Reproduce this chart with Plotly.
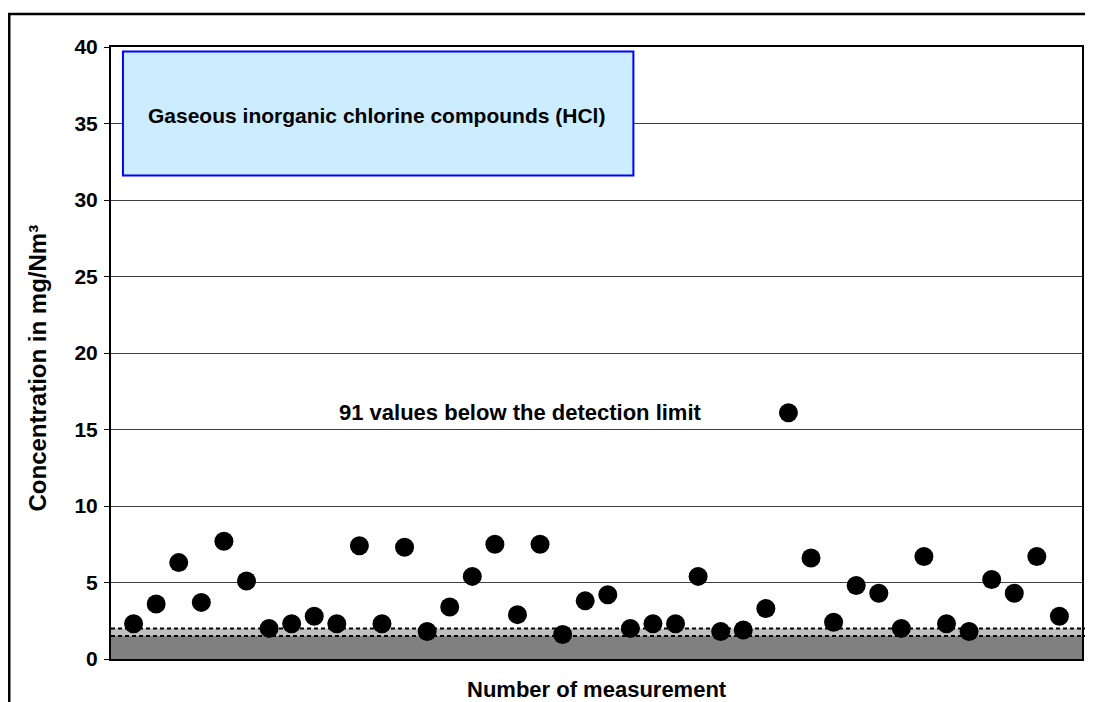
import plotly.graph_objects as go

# Measurements (index) and HCl concentrations in mg/Nm³
measurement = list(range(1, 43))
concentration = [2.3, 3.6, 6.3, 3.7, 7.7, 5.1, 2.0, 2.3, 2.8, 2.3,
                 7.4, 2.3, 7.3, 1.8, 3.4, 5.4, 7.5, 2.9, 7.5, 1.6,
                 3.8, 4.2, 2.0, 2.3, 2.3, 5.4, 1.8, 1.9, 3.3, 16.1,
                 6.6, 2.4, 4.8, 4.3, 2.0, 6.7, 2.3, 1.8, 5.2, 4.3,
                 6.7, 2.8]

# Detection limit band
dl_low = 1.5
dl_high = 2.0

y_ticks = [0, 5, 10, 15, 20, 25, 30, 35, 40]
title_text = "Gaseous inorganic chlorine compounds (HCl)"
note_text = "91 values below the detection limit"

font_family = "Liberation Sans, Arial, sans-serif"

fig = go.Figure()

fig.add_trace(go.Scatter(
    x=measurement,
    y=concentration,
    mode="markers",
    marker=dict(color="black", size=19, line=dict(width=0)),
    showlegend=False,
    cliponaxis=False,
))

# Grey bands below the detection limit
fig.add_shape(type="rect", xref="paper", yref="y", x0=0, x1=1, y0=0, y1=dl_low,
              fillcolor="#808080", line=dict(width=0), layer="below")
fig.add_shape(type="rect", xref="paper", yref="y", x0=0, x1=1, y0=dl_low, y1=dl_high,
              fillcolor="#C0C0C0", line=dict(width=0), layer="below")
for lvl in (dl_low, dl_high):
    fig.add_shape(type="line", xref="paper", yref="y", x0=0, x1=1.004, y0=lvl, y1=lvl,
                  line=dict(color="black", width=2, dash="4px,3px"), layer="below")

# Title box
fig.add_shape(type="rect", xref="paper", yref="y", x0=0.0123, x1=0.538, y0=31.6, y1=39.7,
              fillcolor="#CCECFF", line=dict(color="#0000FF", width=2))
fig.add_annotation(text="<b>" + title_text + "</b>", xref="paper", yref="y",
                   x=0.036, y=35.5, xanchor="left", yanchor="middle", showarrow=False,
                   font=dict(size=21, color="black", family=font_family))

fig.add_annotation(text="<b>" + note_text + "</b>", xref="x", yref="y",
                   x=10.0, y=16.1, xanchor="left", yanchor="middle", showarrow=False,
                   font=dict(size=22, color="black", family=font_family))

# Axis titles
fig.add_annotation(text="<b>Concentration in mg/Nm³</b>", xref="paper", yref="paper",
                   x=-0.076, y=0.475, textangle=-90, showarrow=False,
                   xanchor="center", yanchor="middle",
                   font=dict(size=24, color="black", family=font_family))
fig.add_annotation(text="<b>Number of measurement</b>", xref="paper", yref="paper",
                   x=0.5, y=-0.05, showarrow=False, xanchor="center", yanchor="middle",
                   font=dict(size=22, color="black", family=font_family))

# Outer frame
fig.add_shape(type="rect", xref="paper", yref="paper", x0=-0.1048, x1=1.03, y0=-0.12, y1=1.054,
              line=dict(color="black", width=2.5), fillcolor="rgba(0,0,0,0)")

# page body has an 8px margin, so the figure is sized to fit the window
fig.update_layout(
    width=1085, height=694,
    margin=dict(l=103, r=9, t=39, b=43),
    paper_bgcolor="white",
    plot_bgcolor="white",
    font=dict(family=font_family, color="black"),
    xaxis=dict(range=[0, 43], showticklabels=False, ticks="", showgrid=False,
               zeroline=False, showline=True, linecolor="black", linewidth=2, mirror=True),
    yaxis=dict(range=[0, 40], tickvals=y_ticks, ticktext=["<b>%d</b>" % t for t in y_ticks],
               ticks="outside", ticklen=5, tickcolor="black", tickwidth=1,
               ticklabelstandoff=2,
               tickfont=dict(size=21, color="black", family=font_family),
               showgrid=True, gridcolor="#404040", gridwidth=1, zeroline=False,
               showline=True, linecolor="black", linewidth=2, mirror=True),
)

fig.write_html("out.html")
